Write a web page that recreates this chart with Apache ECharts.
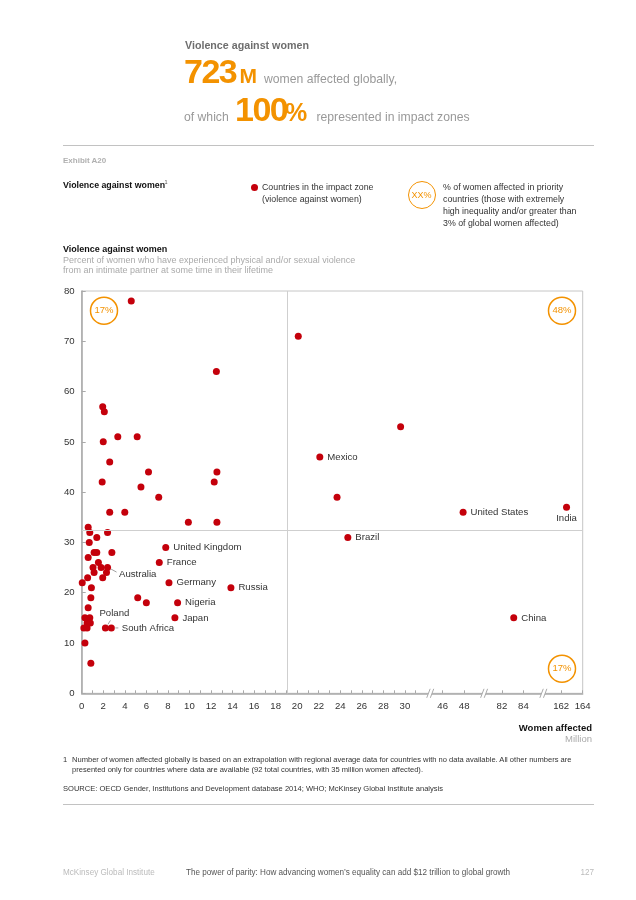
<!DOCTYPE html>
<html>
<head>
<meta charset="utf-8">
<script src="https://cdn.jsdelivr.net/npm/echarts@6/dist/echarts.min.js"></script>
<style>
html,body{margin:0;padding:0;background:#fff;}
#page{position:relative;width:636px;height:900px;overflow:hidden;font-family:"Liberation Sans",Arial,sans-serif;}
#chart{position:absolute;left:0;top:0;width:636px;height:900px;}
.t{position:absolute;white-space:nowrap;line-height:1;}
.rule{position:absolute;height:1px;background:#c2c2c2;}
</style>
</head>
<body>
<div id="page"><div id="chart"></div></div>
<script>
// ---------------- DATA ----------------
const countries = [
  '', '', '', '', '', '', '', '', '', '',
  '', '', '', '', '', '', '', '', '', '',
  '', '', '', '', '', '', '', '', '', '',
  '', 'Australia', '', '', '', '', '', '', '', '',
  '', '', '', '', '', '', 'Poland', 'South Africa', '', '',
  '', '', 'United Kingdom', 'France', 'Germany', 'Russia', 'Nigeria', 'Japan', 'Mexico', '',
  '', 'Brazil', 'United States', 'India', 'China'
];
// women affected, million
const womenAffected = [
  4.6, 12.5, 20.1, 1.95, 2.1, 2.0, 3.35, 5.15, 2.6, 6.2,
  12.55, 1.9, 12.3, 5.5, 7.15, 2.6, 4.0, 9.9, 12.55, 0.6,
  0.75, 2.4, 1.4, 0.7, 0.6, 1.15, 1.4, 2.8, 1.55, 1.05,
  1.8, 2.4, 1.15, 2.3, 0.55, 1.95, 0.05, 0.9, 0.85, 0.6,
  0.3, 0.75, 0.5, 0.8, 0.2, 0.5, 2.2, 2.75, 0.3, 0.85,
  5.2, 6.0, 7.8, 7.2, 8.1, 13.85, 8.9, 8.65, 22.1, 29.6,
  23.7, 24.7, 47.9, 162.5, 83.1
];
// % of women who experienced violence
const percentAffected = [
  78, 64, 71, 57, 56, 50, 51, 51, 46, 44,
  44, 42, 42, 41, 39, 36, 36, 34, 34, 33,
  32, 32, 31, 30, 27, 28, 28, 28, 26, 25,
  25, 25, 24, 24, 23, 23, 22, 21, 19, 17,
  15, 15, 14, 14, 13, 13, 13, 13, 10, 6,
  19, 18, 29, 26, 22, 21, 18, 15, 47, 53,
  39, 31, 36, 37, 15
];
const xTickLabels = [0, 2, 4, 6, 8, 10, 12, 14, 16, 18, 20, 22, 24, 26, 28, 30, 46, 48, 82, 84, 162, 164];
const xMinorTicks = [1, 3, 5, 7, 9, 11, 13, 15, 17, 19, 21, 23, 25, 27, 29, 31];
const yTickLabels = [0, 10, 20, 30, 40, 50, 60, 70, 80];
const thresholdWomen = 19.1;     // vertical reference line (million)
const thresholdPercent = 32.5;   // horizontal reference line (%)
const priorityShares = ['17%', '48%', '17%'];

// broken x axis: visible segments [from, to] of real values, packed side by side
const axisSegments = [[0, 31], [46, 48], [82, 84], [162, 164]];
const segmentGaps = [2.5, 3.5, 3.5];
const segOffsets = [];
(function () {
  let pos = 0;
  axisSegments.forEach((s, i) => {
    if (i === 0) { segOffsets.push(0); pos = s[1]; }
    else { const start = pos + segmentGaps[i - 1]; segOffsets.push(s[0] - start); pos = start + (s[1] - s[0]); }
  });
})();
function toAxis(v) {
  let k = 0;
  axisSegments.forEach((s, i) => { if (v >= s[0] - 3) k = i; });
  return v - segOffsets[k];
}
const axisMax = toAxis(164);
const labelLookup = {};
xTickLabels.forEach(v => { labelLookup[toAxis(v).toFixed(2)] = String(v); });

// ---------------- PAGE TEXT ----------------
const page = document.getElementById('page');
function T(text, x, base, size, o) {
  o = o || {};
  const d = document.createElement('div');
  d.className = 't';
  d.textContent = text;
  d.style.fontSize = size + 'px';
  d.style.top = (base - 0.8465 * size) + 'px';
  if (o.align === 'right') d.style.right = (636 - x) + 'px'; else d.style.left = x + 'px';
  d.style.color = o.color || '#222';
  if (o.bold) d.style.fontWeight = 'bold';
  if (o.ls) d.style.letterSpacing = o.ls + 'px';
  page.appendChild(d);
  return d;
}
function rule(y) {
  const r = document.createElement('div');
  r.className = 'rule';
  r.style.left = '63px'; r.style.width = '531px'; r.style.top = y + 'px';
  page.appendChild(r);
}
const ORANGE = '#f39200';
const RED = '#c4000b';

T('Violence against women', 185, 49.5, 10.7, {bold: true, color: '#6e6e6e'});
T('723', 184, 83, 34, {bold: true, color: ORANGE, ls: -1.5});
T('M', 239.5, 83, 21, {bold: true, color: ORANGE});
T('women affected globally,', 264, 83, 12.2, {color: '#999'});
T('of which', 184, 121, 12.2, {color: '#999'});
T('100', 235, 121, 34, {bold: true, color: ORANGE, ls: -1.5});
T('%', 285, 121, 25, {bold: true, color: ORANGE});
T('represented in impact zones', 316.5, 121, 12.2, {color: '#999'});
rule(145);

T('Exhibit A20', 63, 164, 8, {bold: true, color: '#b0b0b0'});
T('Violence against women', 63, 188.5, 8.8, {bold: true, color: '#111'});
T('1', 164.5, 184.5, 5.5, {color: '#555'});

const dot = document.createElement('div');
dot.style.cssText = 'position:absolute;left:250.5px;top:183.5px;width:7px;height:7px;border-radius:50%;background:' + RED + ';';
page.appendChild(dot);
T('Countries in the impact zone', 262, 190.5, 8.8, {color: '#333'});
T('(violence against women)', 262, 202.5, 8.8, {color: '#333'});

const badge = document.createElement('div');
badge.style.cssText = 'position:absolute;left:407.5px;top:180.5px;width:26px;height:26px;border:1.5px solid ' + ORANGE + ';border-radius:50%;color:' + ORANGE + ';font-size:9px;line-height:26px;text-align:center;font-family:"Liberation Sans",Arial,sans-serif;';
badge.textContent = 'XX%';
page.appendChild(badge);
T('% of women affected in priority', 443, 190.5, 8.8, {color: '#333'});
T('countries (those with extremely', 443, 202.5, 8.8, {color: '#333'});
T('high inequality and/or greater than', 443, 214.5, 8.8, {color: '#333'});
T('3% of global women affected)', 443, 226.5, 8.8, {color: '#333'});

T('Violence against women', 63, 252.5, 9, {bold: true, color: '#111'});
T('Percent of women who have experienced physical and/or sexual violence', 63, 263.5, 9, {color: '#aaa'});
T('from an intimate partner at some time in their lifetime', 63, 274, 9, {color: '#aaa'});

T('Women affected', 592, 731.5, 9.5, {bold: true, color: '#111', align: 'right'});
T('Million', 592, 742.5, 9.5, {color: '#aaa', align: 'right'});

T('1', 63, 762, 7.55, {color: '#333'});
T('Number of women affected globally is based on an extrapolation with regional average data for countries with no data available. All other numbers are', 72, 762, 7.55, {color: '#333'});
T('presented only for countries where data are available (92 total countries, with 35 million women affected).', 72, 772.5, 7.55, {color: '#333'});
T('SOURCE:  OECD Gender, Institutions and Development database 2014; WHO; McKinsey Global Institute analysis', 63, 791.5, 7.55, {color: '#333'});
rule(804);

T('McKinsey Global Institute', 63, 876, 8.15, {color: '#bbb'});
T('The power of parity: How advancing women\u2019s equality can add $12 trillion to global growth', 186, 876, 8.15, {color: '#555'});
T('127', 594, 876, 8.15, {color: '#bbb', align: 'right'});

// ---------------- CHART ----------------
const labelPlacement = {
  'India': {position: 'bottom', distance: 3},
  'Poland': {position: 'top', distance: 5, offset: [9, -1]},
  'Australia': {position: 'right', distance: 5, offset: [3, 6.5]},
  'South Africa': {position: 'right', distance: 7}
};
const leaderLines = {
  'Australia': [[3.5, 1.5], [9, 4.5]],
  'Poland': [[2.5, -3.5], [5, -7.5]],
  'South Africa': [[4, 0], [7, 0]]
};

const chart = echarts.init(document.getElementById('chart'));
const grid = {left: 81.7, right: 53.3, top: 291, bottom: 206.7};
const seriesData = countries.map((name, i) => {
  const item = {name: name, value: [toAxis(womenAffected[i]), percentAffected[i]]};
  if (name) {
    const p = labelPlacement[name] || {position: 'right', distance: 4};
    item.label = Object.assign({show: true, formatter: '{b}'}, p);
  }
  return item;
});

const tickValues = xTickLabels.concat(xMinorTicks).map(toAxis);

chart.setOption({
  animation: false,
  grid: Object.assign({show: true, borderColor: '#c6c6c6', borderWidth: 1}, grid),
  xAxis: {
    type: 'value', min: 0, max: axisMax,
    axisLine: {show: true, lineStyle: {color: '#a9a9a9', width: 1.5}},
    splitLine: {show: false},
    axisTick: {show: true, inside: true, length: 3, customValues: tickValues, lineStyle: {color: '#a9a9a9'}},
    axisLabel: {
      customValues: xTickLabels.map(toAxis),
      formatter: v => labelLookup[Number(v).toFixed(2)] || '',
      color: '#333', fontSize: 9.6, margin: 8, fontFamily: 'Liberation Sans'
    }
  },
  yAxis: {
    type: 'value', min: yTickLabels[0], max: yTickLabels[yTickLabels.length - 1], interval: 10,
    axisLine: {show: true, lineStyle: {color: '#a9a9a9', width: 1.5}},
    splitLine: {show: false},
    axisTick: {show: true, inside: true, length: 4, lineStyle: {color: '#a9a9a9'}},
    axisLabel: {color: '#333', fontSize: 9.6, margin: 7, fontFamily: 'Liberation Sans'}
  },
  series: [{
    type: 'scatter',
    clip: false,
    symbolSize: 7,
    itemStyle: {color: RED, opacity: 1},
    label: {show: false, color: '#333', fontSize: 9.6, fontFamily: 'Liberation Sans'},
    data: seriesData,
    markLine: {
      silent: true, symbol: 'none', label: {show: false},
      lineStyle: {color: '#cfcfcf', width: 1, type: 'solid'},
      data: [{xAxis: toAxis(thresholdWomen)}, {yAxis: thresholdPercent}]
    },
    z: 3
  }]
});

// decorations: axis breaks, priority badges, label leader lines
const gfx = [];
const axisY = chart.convertToPixel({gridIndex: 0}, [0, 0])[1];
for (let i = 0; i < axisSegments.length - 1; i++) {
  const a = toAxis(axisSegments[i][1]), b = toAxis(axisSegments[i + 1][0]);
  const bx = chart.convertToPixel({xAxisIndex: 0}, (a + b) / 2 + 0.1);
  const h = 4.5, w = 1.7, sep = 1.8;
  gfx.push({type: 'polygon', z: 10, shape: {points: [[bx - sep - w, axisY + h], [bx + sep - w, axisY + h], [bx + sep + w, axisY - h], [bx - sep + w, axisY - h]]}, style: {fill: '#fff'}});
  [-sep, sep].forEach(s => gfx.push({type: 'line', z: 11, shape: {x1: bx + s - w, y1: axisY + h, x2: bx + s + w, y2: axisY - h}, style: {stroke: '#a9a9a9', lineWidth: 1}}));
}
const badgePos = [[grid.left + 22.3, grid.top + 19.7], [636 - grid.right - 20.7, grid.top + 19.7], [636 - grid.right - 20.7, 900 - grid.bottom - 24.6]];
priorityShares.forEach((txt, i) => {
  gfx.push({type: 'circle', z: 12, shape: {cx: badgePos[i][0], cy: badgePos[i][1], r: 13.5}, style: {fill: '#fff', stroke: ORANGE, lineWidth: 1.5}});
  gfx.push({type: 'text', z: 13, x: badgePos[i][0], y: badgePos[i][1], style: {text: txt, fill: ORANGE, fontSize: 9.5, fontFamily: 'Liberation Sans', align: 'center', verticalAlign: 'middle'}});
});
countries.forEach((name, i) => {
  if (!leaderLines[name]) return;
  const p = chart.convertToPixel({gridIndex: 0}, [toAxis(womenAffected[i]), percentAffected[i]]);
  const l = leaderLines[name];
  gfx.push({type: 'line', z: 9, shape: {x1: p[0] + l[0][0], y1: p[1] + l[0][1], x2: p[0] + l[1][0], y2: p[1] + l[1][1]}, style: {stroke: '#888', lineWidth: 0.8}});
});
chart.setOption({graphic: gfx});
</script>
</body>
</html>
